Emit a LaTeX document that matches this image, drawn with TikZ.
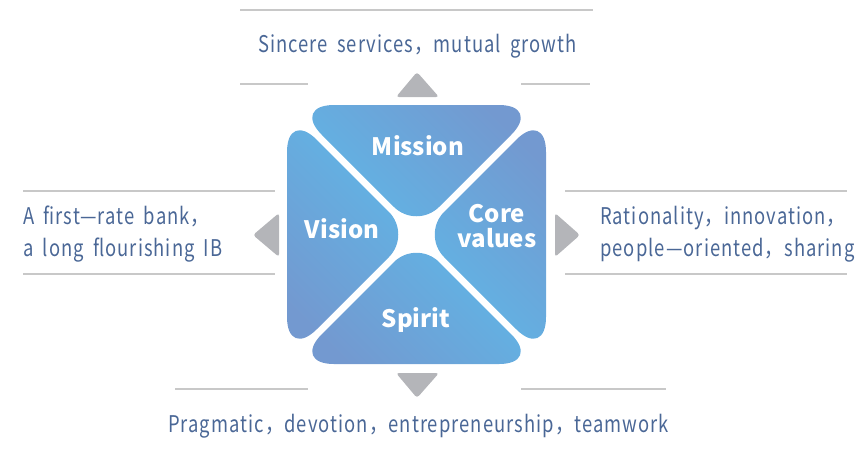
\documentclass[tikz,border=0pt]{standalone}
\usepackage{fontspec}
\setmainfont{Noto Sans CJK SC}
\newfontfamily\mottofont[LetterSpace=4.5,FakeStretch=0.8,WordSpace=1.8]{Noto Sans CJK SC}
\usetikzlibrary{positioning,calc}

\definecolor{txtblue}{HTML}{4A6796}
\definecolor{petaldark}{HTML}{7399D0}
\definecolor{petallight}{HTML}{5FB7E7}
\definecolor{arrowgray}{HTML}{B4B5B9}
\definecolor{rulegray}{HTML}{C8C8C8}

\tikzset{
  petal/.style 2 args={left color=#1, right color=#2, shading angle=-45},
  outer/.style={rounded corners=42pt},
  inner/.style={rounded corners=32pt},
  pointer/.style={fill=arrowgray, rounded corners=3pt},
  rule/.style={draw=rulegray, line width=1.1pt},
  motto/.style={text=txtblue, font=\mottofont\fontsize{23}{31.5}\selectfont, inner sep=0pt, align=left},
  petallabel/.style={text=white, font=\fontsize{24}{25}\selectfont\bfseries, inner sep=0pt, align=center}
}

\begin{document}
\begin{tikzpicture}[x=1pt,y=-1pt]
  \useasboundingbox (0,0) rectangle (867,459);

  % petals
  \shade[petal={petaldark}{petallight}]
    (416.5,105) [outer] -- (541,105) -- ($(541,105)!0.54!(416.5,229.5)$)
    [inner] -- (416.5,229.5) -- ($(416.5,229.5)!0.46!(292,105)$)
    [outer] -- (292,105) -- cycle;
  \shade[petal={petallight}{petaldark}]
    (287,234.5) [outer] -- (287,110) -- ($(287,110)!0.54!(411.5,234.5)$)
    [inner] -- (411.5,234.5) -- ($(411.5,234.5)!0.46!(287,359)$)
    [outer] -- (287,359) -- cycle;
  \shade[petal={petaldark}{petallight}]
    (546,234.5) [outer] -- (546,110) -- ($(546,110)!0.54!(421.5,234.5)$)
    [inner] -- (421.5,234.5) -- ($(421.5,234.5)!0.46!(546,359)$)
    [outer] -- (546,359) -- cycle;
  \shade[petal={petallight}{petaldark}]
    (416.5,364) [outer] -- (541,364) -- ($(541,364)!0.54!(416.5,239.5)$)
    [inner] -- (416.5,239.5) -- ($(416.5,239.5)!0.46!(292,364)$)
    [outer] -- (292,364) -- cycle;

  \node[petallabel, anchor=base] (mission) at (418,155) {Mission};
  \node[petallabel, anchor=base] (vision) at (342,238) {Vision};
  \node[petallabel, anchor=base] (values) at (497,247) {Core\\values};
  \node[petallabel, anchor=base] (spirit) at (416,327) {Spirit};

  % pointers
  \fill[pointer] (396,97) -- (417,72) -- (439,97) -- cycle;
  \fill[pointer] (396,373) -- (439,373) -- (417,398) -- cycle;
  \fill[pointer] (279,213) -- (279,257) -- (253,235) -- cycle;
  \fill[pointer] (555,213) -- (555,257) -- (580,235) -- cycle;

  % rules
  \draw[rule] (240,10) -- (593,10);
  \draw[rule] (240,84) -- (308,84);
  \draw[rule] (521,84) -- (590,84);
  \draw[rule] (23,191) -- (275,191);
  \draw[rule] (23,274) -- (275,274);
  \draw[rule] (565,191) -- (847,191);
  \draw[rule] (565,274) -- (847,274);
  \draw[rule] (175,389) -- (308,389);
  \draw[rule] (521,389) -- (666,389);

  % mottos
  \node[motto, anchor=base] (missiontxt) at (417.5,52) {Sincere services，mutual growth};
  \node[motto, anchor=base west] (visiontxt) at (23,256) {A first—rate bank，\\a long flourishing IB};
  \node[motto, anchor=base west] (valuestxt) at (600,256) {Rationality，innovation，\\people—oriented，sharing};
  \node[motto, anchor=base] (spirittxt) at (418.5,432) {Pragmatic，devotion，entrepreneurship，teamwork};
\end{tikzpicture}
\end{document}
